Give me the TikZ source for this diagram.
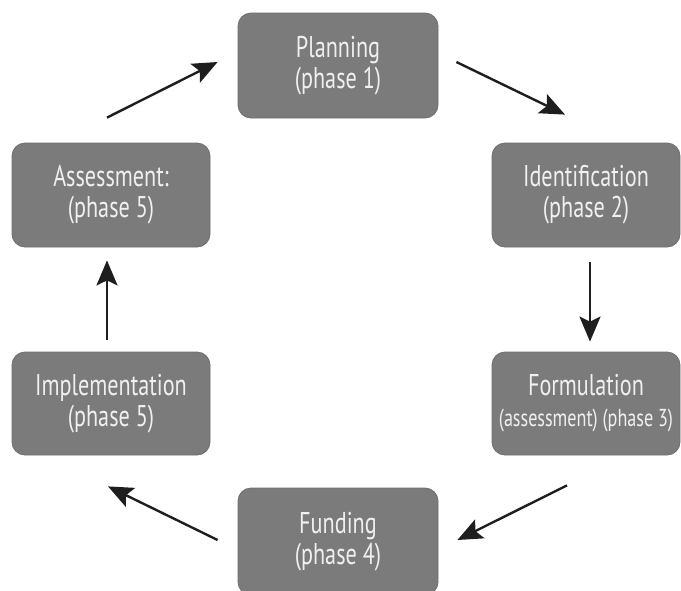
\documentclass[tikz,border=0pt]{standalone}
\usepackage{fontspec}
\setmainfont[FakeStretch=0.74]{PT Sans}
\usepackage{tikz}
\usetikzlibrary{arrows.meta}
\usetikzlibrary{calc}
\definecolor{hopxam}{HTML}{7B7B7B}
\definecolor{vienxam}{HTML}{6E6E6E}
\definecolor{chusang}{HTML}{F0F0F0}
\definecolor{muiten}{HTML}{1E1E1E}

\begin{document}
\begin{tikzpicture}[x=1pt,y=-1pt,
		phase/.style={draw=vienxam,line width=0.8pt,fill=hopxam,rounded corners=13pt,text=chusang,align=center,inner sep=0pt,font=\fontsize{30}{31}\selectfont},
		flow/.style={muiten,line width=2.4pt,-{Stealth[length=25pt,width=21pt,inset=5pt]}}]
			\useasboundingbox (0,0) rectangle (681,590);
			\node[phase,minimum width=200pt,minimum height=105pt] (planning) at (338,65.5) {Planning\\(phase 1)};
			\node[phase,minimum width=188pt,minimum height=104pt] (identification) at (586,195) {Identification\\(phase 2)};
			\node[phase,minimum width=188pt,minimum height=103pt] (formulation) at (586,403.5) {Formulation\\{\fontsize{24.5}{31}\selectfont(assessment) (phase 3)}};
			\node[phase,minimum width=200pt,minimum height=107pt] (funding) at (338,541.5) {Funding\\(phase 4)};
			\node[phase,minimum width=198pt,minimum height=103pt] (implementation) at (111,403.5) {Implementation\\(phase 5)};
			\node[phase,minimum width=198pt,minimum height=104pt] (assessment) at (111,195) {Assessment:\\(phase 5)};
			\draw[flow] ($(assessment.north)+(-4,-25)$) -- ($(planning.west)+(-20,-3.5)$);
			\draw[flow] ($(planning.east)+(18,-3.5)$) -- ($(identification.north)+(-21,-28)$);
			\draw[flow] ($(identification.south)+(4,15)$) -- ($(formulation.north)+(4,-10)$);
			\draw[flow] ($(formulation.south)+(-19,30)$) -- ($(funding.east)+(19,-1.5)$);
			\draw[flow] ($(funding.west)+(-20,-1.5)$) -- ($(implementation.south)+(-3,31)$);
			\draw[flow] ($(implementation.north)+(-4,-12)$) -- ($(assessment.south)+(-4,13)$);
		\end{tikzpicture}
\end{document}
